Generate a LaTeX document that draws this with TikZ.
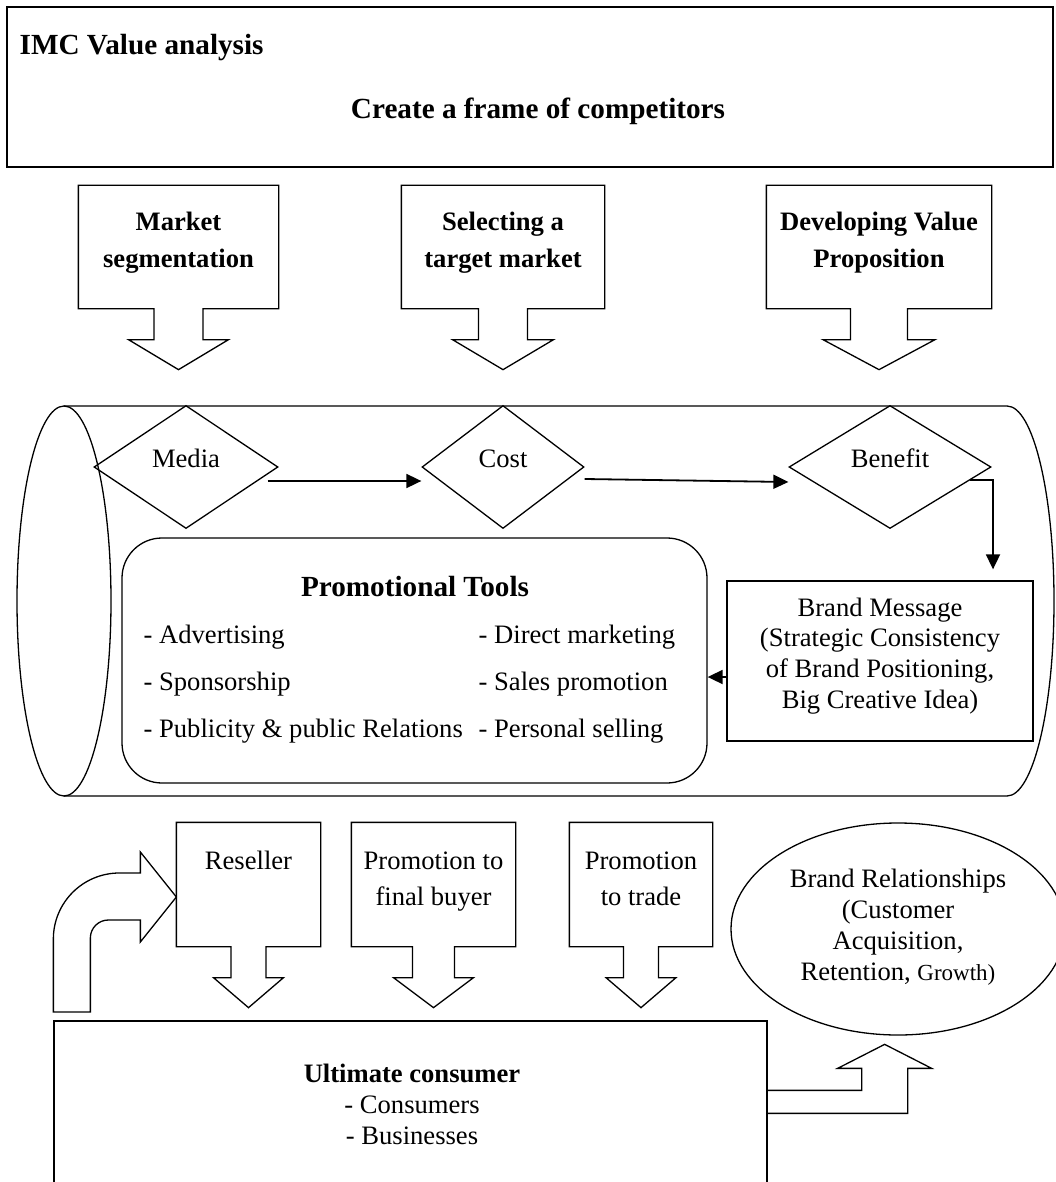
\documentclass[tikz,border=0pt]{standalone}
\usepackage{fontspec}
\setmainfont{Liberation Serif}
\usepackage{tikz}
\usetikzlibrary{shapes.geometric, arrows.meta}

\newcommand{\downcallout}[5]{%
	\draw (#1.south west) -- (#1.north west) -- (#1.north east) -- (#1.south east) -- ([xshift=#2pt]#1.south) -- ++(0,#4) -- ++(#3-#2,0) -- ++(-#3,#5) -- ++(-#3,-#5) -- ++(#3-#2,0) -- ++(0,-#4) -- cycle;}

\begin{document}
\begin{tikzpicture}[x=1pt, y=-1pt, line width=1.3pt,
	callbox/.style={rectangle, inner sep=0pt},
	boxtext/.style={anchor=base, align=flush center, inner sep=0pt, font=\fontsize{26.6}{36}\selectfont},
	boxhead/.style={boxtext, font=\fontsize{26.6}{36}\selectfont\bfseries},
	headline/.style={inner sep=0pt, font=\fontsize{29.2}{34}\selectfont\bfseries},
	choice/.style={diamond, draw, aspect=1.6, inner sep=0pt, minimum height=123pt, text height=15pt, text depth=15pt, font=\fontsize{26.6}{30}\selectfont},
	tool/.style={anchor=base west, inner sep=0pt, font=\fontsize{26.6}{30}\selectfont},
	flow/.style={-{Triangle[length=15pt, width=14pt]}, line width=1.8pt}]
					\useasboundingbox (0,0) rectangle (1055,1182);
					
					\node[draw, rectangle, line width=2pt, inner sep=0pt, minimum width=1046pt, minimum height=160pt] (frame) at (530,87) {};
					\node[headline, anchor=base west] (imc) at (19,55) {IMC Value analysis};
					\node[headline, anchor=base] (competitors) at (538,119) {Create a frame of competitors};
					
					\node[callbox, minimum width=199pt, minimum height=122pt] (segmentation) at (178.5,247) {};
					\node[boxhead, text width=199pt] (segmentationtext) at (178.5,231) {Market\\segmentation};
					\downcallout{segmentation}{24.5}{50}{31}{30}
					
					\node[callbox, minimum width=202pt, minimum height=122pt] (target) at (503,247) {};
					\node[boxhead, text width=202pt] (targettext) at (503,231) {Selecting a\\target market};
					\downcallout{target}{24.5}{50.5}{31}{30}
					
					\node[callbox, minimum width=224pt, minimum height=122pt] (proposition) at (879,247) {};
					\node[boxhead, text width=224pt] (propositiontext) at (879,231) {Developing Value\\Proposition};
					\downcallout{proposition}{28.5}{56}{31}{30}
					
					\draw (64,406) -- (1007,406) arc[start angle=90, end angle=-90, x radius=47pt, y radius=195pt] -- (64,796);
					\draw (64,601) ellipse[x radius=47pt, y radius=195pt];
					
					\node[choice, minimum width=184pt] (media) at (186,467) {Media};
					\node[choice, minimum width=162pt] (cost) at (503,467) {Cost};
					\node[choice, minimum width=202pt] (benefit) at (890,467) {Benefit};
					
					\node[draw, rectangle, rounded corners=40pt, inner sep=0pt, minimum width=585pt, minimum height=245pt] (promo) at (414.5,660.5) {};
					\node[headline, anchor=base] (promotitle) at (415,596) {Promotional Tools};
					\node[tool] (advertising) at (143,643) {- Advertising};
					\node[tool] (sponsorship) at (143,690) {- Sponsorship};
					\node[tool] (publicity) at (143,737) {- Publicity \& public Relations};
					\node[tool] (direct) at (478,643) {- Direct marketing};
					\node[tool] (sales) at (478,690) {- Sales promotion};
					\node[tool] (personal) at (478,737) {- Personal selling};
					
					\node[draw, rectangle, inner sep=0pt, minimum width=306pt, minimum height=160pt] (brand) at (880,661) {};
					\node[boxtext, text width=300pt, font=\fontsize{26.6}{30.7}\selectfont] (brandtext) at (880,616) {Brand Message\\(Strategic Consistency\\of Brand Positioning,\\Big Creative Idea)};
					
					\draw[flow] ([shift={(-11,14)}]media.east) -- ([yshift=-14pt]cost.west);
					\draw[flow] ([yshift=-12pt]cost.east) -- ([yshift=-15pt]benefit.west);
					\draw[flow] ([shift={(-22,13)}]benefit.east) -| ([shift={(113,-11)}]brand.north);
					\draw[flow] ([yshift=-16pt]brand.west) -- ([yshift=-16pt]brand.west -| promo.east);
					
					\node[callbox, minimum width=143pt, minimum height=123pt] (reseller) at (248.5,884.5) {};
					\node[boxtext, text width=143pt] (resellertext) at (248.5,869) {Reseller};
					\downcallout{reseller}{17.5}{35}{31}{30}
					
					\node[callbox, minimum width=163pt, minimum height=123pt] (finalbuyer) at (433.5,884.5) {};
					\node[boxtext, text width=163pt] (finalbuyertext) at (433.5,869) {Promotion to\\final buyer};
					\downcallout{finalbuyer}{21}{40}{31}{30}
					
					\node[callbox, minimum width=142pt, minimum height=123pt] (trade) at (641,884.5) {};
					\node[boxtext, text width=142pt] (tradetext) at (641,869) {Promotion\\to trade};
					\downcallout{trade}{17.5}{35}{31}{30}
					
					\node[draw, ellipse, inner sep=0pt, minimum width=334pt, minimum height=212pt] (relationships) at (898,929) {};
					\node[boxtext, text width=320pt, font=\fontsize{26.6}{31}\selectfont] (relationshipstext) at (898,887) {Brand Relationships\\(Customer\\Acquisition,\\Retention, {\fontsize{23}{31}\selectfont Growth)}};
					
					\node[draw, rectangle, inner sep=0pt, minimum width=713pt, minimum height=240pt] (consumer) at (410.5,1141) {};
					\node[boxtext, text width=400pt, font=\fontsize{26.6}{31}\selectfont] (consumertext) at (412,1082) {\textbf{Ultimate consumer}\\- Consumers\\- Businesses};
					
					\draw ([yshift=-12.5pt]reseller.west) -- ++(-36,45) -- ++(0,-22) -- ++(-32,0) arc[start angle=90, end angle=180, radius=18pt] -- ++(0,74) -- ++(-37,0) -- ++(0,-73) arc[start angle=180, end angle=90, radius=66pt] -- ++(21,0) -- ++(0,-21) -- cycle;
					\draw ([yshift=-70pt]consumer.north east) -- ++(94,0) -- ++(0,-22) -- ++(-24,0) -- ++(47,-24) -- ++(47,24) -- ++(-24,0) -- ++(0,45) -- ([yshift=-93pt]consumer.north east);
				\end{tikzpicture}
\end{document}
